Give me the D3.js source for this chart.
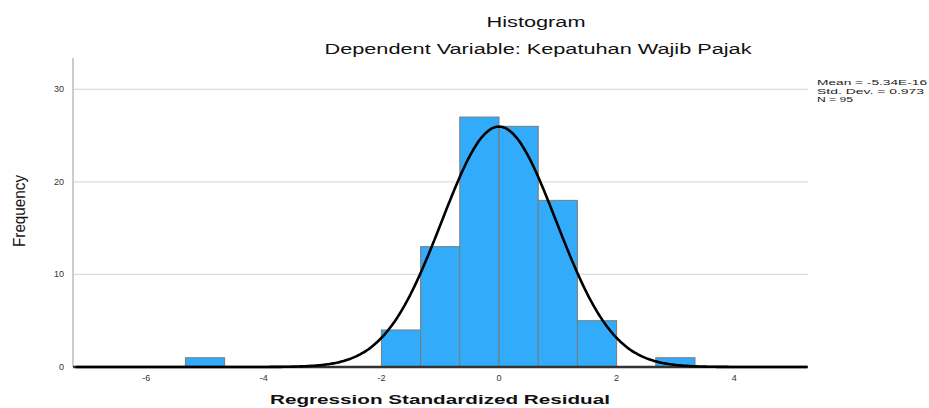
<!DOCTYPE html>
<html>
<head>
<meta charset="utf-8">
<script src="https://cdn.jsdelivr.net/npm/d3@7/dist/d3.min.js"></script>
<style>
html,body{margin:0;padding:0;background:#fff;}
svg{display:block;font-family:Arial,"Liberation Sans",sans-serif;}
</style>
</head>
<body>
<svg id="chart" width="929" height="408"></svg>
<script>
// ---- data ----
const binStarts = [-5.333, -2.0, -1.333, -0.667, 0.0, 0.667, 1.333, 2.667];
const binEnds   = [-4.667, -1.333, -0.667, 0.0, 0.667, 1.333, 2.0, 3.333];
const counts    = [1, 4, 13, 27, 26, 18, 5, 1];
const xTicks = [-6, -4, -2, 0, 2, 4];
const xTickLabels = ["-6", "-4", "-2", "0", "2", "4"];
const yTicks = [0, 10, 20, 30];
const yTickLabels = ["0", "10", "20", "30"];
const statMean = -5.34e-16;
const statSD = 0.973;
const statN = 95;
const binWidth = 0.6667;
const statLines = ["Mean = -5.34E-16", "Std. Dev. = 0.973", "N = 95"];

const svg = d3.select("#chart");
const x = d3.scaleLinear().domain([-7.245, 5.255]).range([73, 808]);
const y = d3.scaleLinear().domain([0, 33.38]).range([367, 58]);

// gridlines
svg.append("g").selectAll("line").data(yTicks.filter(d => d > 0)).join("line")
  .attr("x1", x.range()[0]).attr("x2", x.range()[1])
  .attr("y1", d => y(d)).attr("y2", d => y(d))
  .attr("stroke", "#dcdcdc").attr("stroke-width", 1.2);

// y axis line
svg.append("line").attr("x1", 73).attr("x2", 73)
  .attr("y1", y.range()[1]).attr("y2", y(0))
  .attr("stroke", "#bdbdbd").attr("stroke-width", 1.5);

// bars
svg.append("g").selectAll("rect").data(counts).join("rect")
  .attr("x", (d, i) => x(binStarts[i]))
  .attr("width", (d, i) => x(binEnds[i]) - x(binStarts[i]))
  .attr("y", d => y(d))
  .attr("height", d => y(0) - y(d))
  .attr("fill", "#33abfb")
  .attr("stroke", "#7a7a7a").attr("stroke-width", 1);

// x axis line
svg.append("line").attr("x1", x.range()[0]).attr("x2", x.range()[1])
  .attr("y1", y(0)).attr("y2", y(0))
  .attr("stroke", "#333").attr("stroke-width", 2.5);

// normal curve from the reported statistics
const scaleK = statN * binWidth;
const pts = d3.range(-7.2, 5.25, 0.02).map(v => [v,
  scaleK * Math.exp(-0.5 * Math.pow((v - statMean) / statSD, 2)) / (statSD * Math.sqrt(2 * Math.PI))]);
svg.append("path").datum(pts)
  .attr("d", d3.line().x(d => x(d[0])).y(d => y(d[1])).curve(d3.curveBasis))
  .attr("fill", "none").attr("stroke", "#000").attr("stroke-width", 2.6);

// tick labels
svg.append("g").selectAll("text").data(xTicks).join("text")
  .attr("x", d => x(d)).attr("y", 381)
  .attr("text-anchor", "middle").attr("font-size", 9).attr("fill", "#333")
  .text((d, i) => xTickLabels[i]);
svg.append("g").selectAll("text").data(yTicks).join("text")
  .attr("x", 64).attr("y", d => y(d) + 3)
  .attr("text-anchor", "end").attr("font-size", 9).attr("fill", "#333")
  .text((d, i) => yTickLabels[i]);

// titles
svg.append("text").attr("x", 536).attr("y", 27).attr("text-anchor", "middle")
  .attr("font-size", 14).attr("fill", "#111")
  .attr("textLength", 99).attr("lengthAdjust", "spacingAndGlyphs")
  .text("Histogram");
svg.append("text").attr("x", 538).attr("y", 54).attr("text-anchor", "middle")
  .attr("font-size", 14).attr("fill", "#111")
  .attr("textLength", 427).attr("lengthAdjust", "spacingAndGlyphs")
  .text("Dependent Variable: Kepatuhan Wajib Pajak");
svg.append("text").attr("x", 440).attr("y", 404).attr("text-anchor", "middle")
  .attr("font-size", 13).attr("font-weight", "bold").attr("fill", "#111")
  .attr("textLength", 340).attr("lengthAdjust", "spacingAndGlyphs")
  .text("Regression Standardized Residual");
svg.append("text").attr("transform", "translate(25,211) rotate(-90)")
  .attr("text-anchor", "middle").attr("font-size", 16).attr("fill", "#111")
  .attr("textLength", 72).attr("lengthAdjust", "spacingAndGlyphs")
  .text("Frequency");

// stats box
svg.append("g").selectAll("text").data(statLines).join("text")
  .attr("x", 817).attr("y", (d, i) => 85 + i * 8.5)
  .attr("font-size", 7.5).attr("fill", "#222")
  .attr("textLength", (d, i) => [110, 107, 36][i]).attr("lengthAdjust", "spacingAndGlyphs")
  .text(d => d);
</script>
</body>
</html>
